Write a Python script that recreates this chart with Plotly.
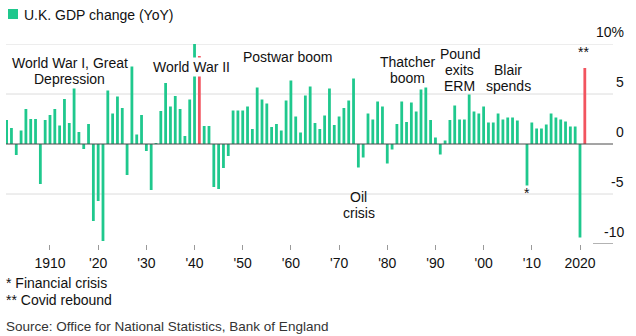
import plotly.graph_objects as go

# ---------------- data ----------------
years = list(range(1901, 2022))
gdp_change = [
    2.4, 1.6, -1.1, 1.35, 3.5, 2.5, 2.5, -4.0, 2.4, 2.9,          # 1901-1910
    3.5, 1.85, 4.5, 2.1, 5.55, 1.2, -0.5, 2.0, -7.7, -5.7,        # 1911-1920
    -9.7, 5.35, 3.05, 4.75, 3.6, -3.1, 7.75, 0.95, 2.9, -0.7,     # 1921-1930
    -4.6, 0.1, 3.3, 6.1, 3.75, 4.8, 3.5, 0.8, 4.45, 10.0,         # 1931-1940
    8.8, 1.8, 1.8, -4.3, -4.5, -2.4, -1.2, 3.35, 3.35, 3.35,      # 1941-1950
    3.75, 1.5, 5.65, 4.45, 4.05, 1.7, 2.0, 1.35, 4.35, 6.35,      # 1951-1960
    2.75, 1.15, 4.85, 5.75, 2.1, 1.5, 2.85, 5.55, 1.9, 2.75,      # 1961-1970
    3.6, 4.35, 6.55, -2.35, -1.35, 3.05, 2.45, 4.25, 3.75, -1.95, # 1971-1980
    -0.55, 2.0, 4.25, 2.2, 4.15, 3.25, 5.45, 5.65, 2.4, 0.65,     # 1981-1990
    -1.05, 0.35, 2.4, 3.85, 2.45, 2.45, 4.95, 3.25, 3.05, 3.75,   # 1991-2000
    2.15, 2.15, 3.05, 2.45, 2.65, 2.65, 2.35, 0.0, -4.15, 2.15,   # 2001-2010
    1.55, 1.55, 1.95, 3.05, 2.65, 2.45, 2.25, 1.75, 1.75, -9.35,  # 2011-2020
    7.6,                                                          # 2021
]
highlight_years = [1941, 2021]

x_tick_vals = [1910, 1920, 1930, 1940, 1950, 1960, 1970, 1980, 1990, 2000, 2010, 2020]
x_tick_text = ["1910", "'20", "'30", "'40", "'50", "'60", "'70", "'80", "'90", "'00", "'10", "2020"]

y_tick_vals = [10, 5, 0, -5, -10]
y_tick_text = ["10%", "5", "0", "-5", "-10"]

title_text = "U.K. GDP change (YoY)"
footnotes = ["* Financial crisis", "** Covid rebound"]
source_text = "Source: Office for National Statistics, Bank of England"

# event labels: (text lines, year, value of first line)
events = [
    (["World War I, Great", "Depression"], 1914.15, 8.1),
    (["World War II"], 1939.3, 7.73),
    (["Postwar boom"], 1959.2, 8.7),
    (["Oil", "crisis"], 1974.07, -5.27),
    (["Thatcher", "boom"], 1984.2, 8.18),
    (["Pound", "exits", "ERM"], 1995.0, 8.98),
    (["Blair", "spends"], 2005.1, 7.43),
    (["*"], 2009.0, -4.9),
    (["**"], 2020.8, 9.25),
]

# ---------------- style ----------------
GREEN = "#1fc88d"
RED = "#f2545f"
GRID = "#dcdcdc"
ZERO = "#4a4a4a"
TEXT = "#111111"
FONT = "Liberation Sans, Arial, sans-serif"

W, H = 636, 336
L, R, T, B = 6, 23, 44, 92
PW, PH = W - L - R, H - T - B


def px_x(px):
    return (px - L) / PW


def px_y(py):
    return (H - B - py) / PH


colors = [RED if y in highlight_years else GREEN for y in years]

fig = go.Figure()
fig.add_trace(go.Bar(
    x=years, y=gdp_change,
    marker=dict(color=colors, line=dict(width=0)),
    hoverinfo="x+y",
))

shapes = []
# gridlines
for v in y_tick_vals:
    if v == 0:
        continue
    if v == -10:
        shapes.append(dict(type="line", xref="paper", yref="y",
                           x0=px_x(593), x1=1.0, y0=v, y1=v,
                           line=dict(color="#9a9a9a", width=1.5), layer="below"))
    else:
        shapes.append(dict(type="line", xref="paper", yref="y",
                           x0=0, x1=1.0, y0=v, y1=v,
                           line=dict(color=GRID, width=1), layer="below"))
# zero line
shapes.append(dict(type="line", xref="paper", yref="y", x0=0, x1=1.0, y0=0, y1=0,
                   line=dict(color=ZERO, width=1), layer="above"))
# legend square
shapes.append(dict(type="rect", xref="paper", yref="paper",
                   x0=px_x(8), x1=px_x(18), y0=px_y(19), y1=px_y(9),
                   fillcolor=GREEN, line=dict(width=0)))

annotations = []
# y tick labels (right side, above gridlines)
for v, t in zip(y_tick_vals, y_tick_text):
    annotations.append(dict(text=t, xref="paper", yref="y", x=px_x(626), y=v,
                            xanchor="right", yanchor="bottom", yshift=2,
                            showarrow=False, font=dict(size=14, color=TEXT)))

# event labels
LINE_GAP = 1.6  # value units between lines
for lines, yr, v in events:
    for i, ln in enumerate(lines):
        ann = dict(text=ln, x=yr, y=v - i * LINE_GAP, xref="x", yref="y",
                   xanchor="center", yanchor="middle", showarrow=False,
                   font=dict(size=14, color=TEXT))
        if ln == "World War II":
            ann["bgcolor"] = "white"
        annotations.append(ann)

# title
annotations.append(dict(text=title_text, xref="paper", yref="paper",
                        x=px_x(22), y=px_y(14.5), xanchor="left", yanchor="middle",
                        showarrow=False, font=dict(size=14, color=TEXT)))
# footnotes
for i, fn in enumerate(footnotes):
    annotations.append(dict(text=fn, xref="paper", yref="paper",
                            x=px_x(4), y=px_y(283 + 17 * i), xanchor="left", yanchor="middle",
                            showarrow=False, font=dict(size=14, color=TEXT)))
annotations.append(dict(text=source_text, xref="paper", yref="paper",
                        x=px_x(4), y=px_y(326), xanchor="left", yanchor="middle",
                        showarrow=False, font=dict(size=13.5, color="#333333")))

fig.update_layout(
    width=W, height=H,
    margin=dict(l=L, r=R, t=T, b=B, pad=0),
    paper_bgcolor="white", plot_bgcolor="white",
    font=dict(family=FONT, size=14, color=TEXT),
    bargap=0.42,
    showlegend=False,
    shapes=shapes,
    annotations=annotations,
    xaxis=dict(range=[1900.87, 2026.85], tickvals=x_tick_vals, ticktext=x_tick_text,
               ticks="outside", ticklen=5, tickwidth=1, tickcolor="#9a9a9a",
               showgrid=False, zeroline=False, showline=False,
               tickfont=dict(size=14, color=TEXT), ticklabelstandoff=1, fixedrange=True),
    yaxis=dict(range=[-10, 10], showgrid=False, zeroline=False, showline=False,
               showticklabels=False, ticks="", fixedrange=True),
)

fig.write_html("out.html")
